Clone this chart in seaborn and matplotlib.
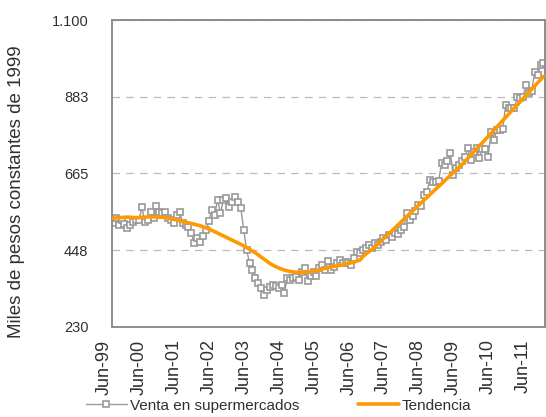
import matplotlib
matplotlib.use("Agg")
import matplotlib.pyplot as plt
import seaborn as sns
import pandas as pd

# Venta en supermercados, monthly from Jun-99 (miles de pesos de 1999)
ventas = [
    524, 538, 519, 533, 522, 510, 519, 528, 533, 533,
    569, 528, 533, 557, 538, 573, 557, 554, 557, 540,
    533, 524, 547, 557, 524, 519, 514, 495, 467, 481,
    472, 488, 505, 530, 562, 547, 590, 552, 590, 595,
    571, 585, 599, 585, 567, 505, 448, 411, 391, 369,
    355, 340, 321, 335, 342, 349, 345, 340, 350, 326,
    370, 363, 369, 372, 363, 385, 397, 360, 375, 387,
    373, 396, 406, 390, 417, 390, 401, 410, 420, 410,
    415, 410, 406, 425, 443, 440, 448, 453, 462, 455,
    468, 462, 472, 481, 476, 491, 486, 497, 494, 505,
    514, 553, 532, 545, 558, 576, 572, 604, 613, 647,
    642, 640, 645, 695, 689, 700, 722, 661, 680, 689,
    700, 712, 736, 703, 725, 736, 709, 735, 733, 713,
    783, 760, 788, 788, 790, 859, 850, 850, 850, 883,
    880, 883, 916, 892, 900, 954, 944, 972, 977,
]

tendencia = [
    538, 539, 540, 540, 541, 541, 541, 540, 540, 540,
    541, 541, 542, 542, 542, 542, 541, 541, 540, 539,
    537, 535, 533, 531, 529, 527, 525, 523, 521, 519,
    517, 514, 511, 508, 504, 500, 496, 492, 488, 484,
    480, 476, 472, 468, 464, 460, 455, 450, 445, 440,
    434, 428, 422, 416, 410, 405, 401, 397, 394, 391,
    389, 387, 386, 385, 385, 385, 386, 386, 387, 388,
    390, 392, 394, 396, 398, 400, 402, 403, 405, 406,
    408, 410, 412, 414, 417, 420, 430, 437, 443, 449,
    456, 464, 472, 480, 488, 495, 503, 511, 519, 527,
    535, 543, 551, 558, 566, 574, 582, 590, 597, 605,
    613, 621, 628, 636, 644, 652, 660, 667, 675, 683,
    690, 699, 708, 717, 726, 735, 744, 752, 761, 770,
    779, 788, 797, 806, 815, 824, 833, 842, 851, 859,
    868, 877, 886, 895, 904, 913, 922, 931, 940,
]

tick_labels = ["Jun-99", "Jun-00", "Jun-01", "Jun-02", "Jun-03", "Jun-04", "Jun-05",
               "Jun-06", "Jun-07", "Jun-08", "Jun-09", "Jun-10", "Jun-11"]
y_ticks = [230, 448, 665, 883, 1100]
y_tick_labels = ["230", "448", "665", "883", "1.100"]

df = pd.DataFrame({"mes": range(len(ventas)), "ventas": ventas, "tendencia": tendencia})

sns.set_style("white")
plt.rcParams["font.family"] = ["Liberation Sans", "DejaVu Sans"]
text_color = "#303030"

fig = plt.figure(figsize=(5.46, 4.17), dpi=100)
ax = fig.add_axes([0.205, 0.216, 0.793, 0.736])

sns.lineplot(data=df, x="mes", y="ventas", ax=ax, color="#999999", linewidth=1.0,
             marker="s", markersize=5, markerfacecolor="white",
             markeredgecolor="#999999", markeredgewidth=1.2,
             label="Venta en supermercados", zorder=2)
sns.lineplot(data=df, x="mes", y="tendencia", ax=ax, color="#FF9900", linewidth=2.6,
             label="Tendencia", zorder=3)

ax.set_xlim(-0.3, len(ventas) - 0.5)
ax.set_ylim(230, 1100)
ax.set_xticks(range(0, 12 * len(tick_labels), 12))
ax.set_xticklabels(tick_labels, rotation=90, ha="right", fontsize=13, color=text_color)
ax.set_yticks(y_ticks)
ax.set_yticklabels(y_tick_labels, fontsize=10.5, color=text_color)
ax.tick_params(axis="x", length=0, pad=9)
ax.tick_params(axis="y", direction="in", length=5, color="#808080", pad=17)
ax.set_xlabel("")
ax.set_ylabel("")

ax.yaxis.grid(True, linestyle=(0, (6, 5)), color="#BBBBBB", linewidth=0.9)
ax.set_axisbelow(True)
for s in ax.spines.values():
    s.set_color("#8C8C8C")
    s.set_linewidth(1.4)

fig.text(0.031, 0.54, "Miles de pesos constantes de 1999", rotation=90,
         ha="center", va="center", fontsize=13.5, color=text_color)

ax.legend(loc="center", bbox_to_anchor=(0.385, -0.257), ncol=2, frameon=False,
          fontsize=11, handlelength=2.7, handletextpad=0.2, columnspacing=3.8,
          labelcolor=text_color)

fig.savefig("out.png", dpi=100)
